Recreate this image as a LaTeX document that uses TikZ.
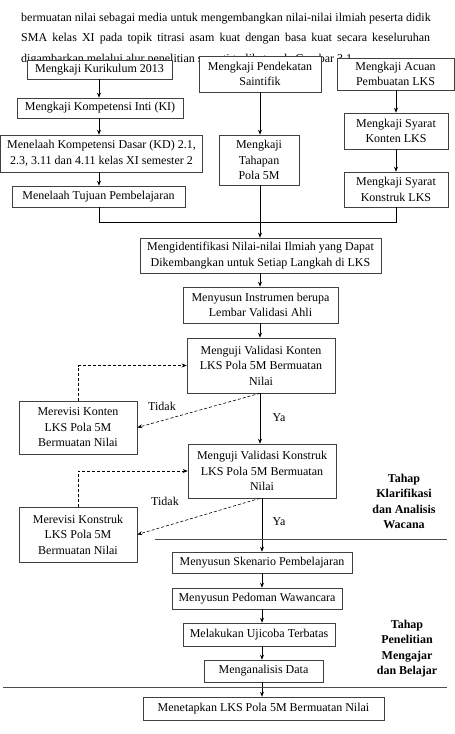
\documentclass[tikz,border=0pt]{standalone}
\usepackage{fontspec}
\setmainfont{Liberation Serif}
\usetikzlibrary{arrows.meta}
\begin{document}
\begin{tikzpicture}[x=1pt,y=-1pt,
  font=\fontsize{12}{15.5}\selectfont,
  box/.style={draw=black!75, line width=0.6pt, fill=white, align=center, inner sep=0pt},
  arr/.style={-{Stealth[length=5pt,width=4pt]}, line width=0.7pt},
  conn/.style={line width=0.7pt},
  dasharr/.style={-{Stealth[length=5pt,width=4pt]}, line width=0.6pt, dashed, dash pattern=on 3pt off 2pt},
  lbl/.style={inner sep=0pt},
  tahap/.style={align=center, font=\fontsize{12}{15.5}\selectfont\bfseries, inner sep=0pt}]
\useasboundingbox (0,0) rectangle (455,734);
% paragraph text
\node[anchor=base west, inner sep=0pt] (p2) at (21,21) {bermuatan nilai sebagai media untuk mengembangkan nilai-nilai ilmiah peserta didik};
\node[anchor=base west, inner sep=0pt] (p3) at (21,41.5) {\makebox[409pt][s]{SMA kelas XI pada topik titrasi asam kuat dengan basa kuat secara keseluruhan}};
\node[anchor=base west, inner sep=0pt] (p4) at (21,62) {digambarkan melalui alur penelitian seperti terlihat pada Gambar 3.1.};
% column coordinates
\coordinate (colL) at (99,0);
\coordinate (colM) at (260,0);
\coordinate (colR) at (396,0);
\coordinate (colB) at (262,0);
% boxes
\node[box, minimum width=145pt, minimum height=19pt] (kur) at (99.5,69.5) {Mengkaji Kurikulum 2013};
\node[box, minimum width=122pt, minimum height=36pt] (pend) at (260,74) {Mengkaji Pendekatan\\Saintifik};
\node[box, minimum width=117pt, minimum height=32pt] (acuan) at (395.5,74) {Mengkaji Acuan\\Pembuatan LKS};
\node[box, minimum width=166pt, minimum height=20pt] (ki) at (100,108) {Mengkaji Kompetensi Inti (KI)};
\node[box, minimum width=104pt, minimum height=36pt] (skon) at (396,131) {Mengkaji Syarat\\Konten LKS};
\node[box, minimum width=202pt, minimum height=37pt] (kd) at (101.5,153.5) {Menelaah Kompetensi Dasar (KD) 2.1,\\2.3, 3.11 dan 4.11 kelas XI semester 2};
\node[box, minimum width=80pt, minimum height=50pt] (tahap) at (259,160) {Mengkaji\\Tahapan\\Pola 5M};
\node[box, minimum width=173pt, minimum height=21pt] (tuj) at (98.5,196.5) {Menelaah Tujuan Pembelajaran};
\node[box, minimum width=104pt, minimum height=35pt] (skons) at (396,189.5) {Mengkaji Syarat\\Konstruk LKS};
\node[box, minimum width=241pt, minimum height=35pt] (ident) at (260.5,255.5) {Mengidentifikasi Nilai-nilai Ilmiah yang Dapat\\Dikembangkan untuk Setiap Langkah di LKS};
\node[box, minimum width=155pt, minimum height=36pt] (instr) at (260.5,305) {Menyusun Instrumen berupa\\Lembar Validasi Ahli};
\node[box, minimum width=148pt, minimum height=55pt] (valk) at (261,365.5) {Menguji Validasi Konten\\LKS Pola 5M Bermuatan\\Nilai};
\node[box, minimum width=118pt, minimum height=53pt] (revk) at (78,427.5) {Merevisi Konten\\LKS Pola 5M\\Bermuatan Nilai};
\node[box, minimum width=148pt, minimum height=54pt] (valks) at (262,471) {Menguji Validasi Konstruk\\LKS Pola 5M Bermuatan\\Nilai};
\node[box, minimum width=118pt, minimum height=55pt] (revks) at (78,534.5) {Merevisi Konstruk\\LKS Pola 5M\\Bermuatan Nilai};
\node[box, minimum width=180pt, minimum height=21pt] (sken) at (262,562.5) {Menyusun Skenario Pembelajaran};
\node[box, minimum width=170pt, minimum height=21pt] (waw) at (257,598.5) {Menyusun Pedoman Wawancara};
\node[box, minimum width=152pt, minimum height=23pt] (uji) at (259,634.5) {Melakukan Ujicoba Terbatas};
\node[box, minimum width=119pt, minimum height=22pt] (anal) at (263.5,671) {Menganalisis Data};
\node[box, minimum width=241pt, minimum height=23pt] (tetap) at (263.5,708.5) {Menetapkan LKS Pola 5M Bermuatan Nilai};
% top connectors
\draw[arr] (kur.south -| colL) -- (ki.north -| colL);
\draw[arr] (ki.south -| colL) -- (kd.north -| colL);
\draw[arr] (kd.south -| colL) -- (tuj.north -| colL);
\draw[arr] (pend.south -| colM) -- (tahap.north -| colM);
\draw[arr] (acuan.south -| colR) -- (skon.north -| colR);
\draw[arr] (skon.south -| colR) -- (skons.north -| colR);
\coordinate (jy) at (0,222);
\draw[conn] (tuj.south -| colL) -- (jy -| colL) -- (jy -| colR) -- (skons.south -| colR);
\draw[arr] (tahap.south -| colM) -- (ident.north -| colM);
\draw[arr] (ident.south -| colM) -- (instr.north -| colM);
\draw[arr] (instr.south -| colM) -- (valk.north -| colM);
\draw[arr] (valk.south -| colM) -- (valks.north -| colM);
\draw[arr] (valks.south -| colB) -- (sken.north -| colB);
\draw[arr] (sken.south -| colB) -- (waw.north -| colB);
\draw[arr] (waw.south -| colB) -- (uji.north -| colB);
\draw[arr] (uji.south -| colB) -- (anal.north -| colB);
\draw[arr] (anal.south -| colB) -- (tetap.north -| colB);
% dashed feedback
\draw[dasharr] (revk.north) |- (valk.west);
\draw[dasharr] (valk.south -| colM) -- (revk.east);
\draw[dasharr] (revks.north) |- (valks.west);
\draw[dasharr] (valks.south -| colM) -- (revks.east);
% labels
\node[lbl] (t1) at (162,406) {Tidak};
\node[lbl] (y1) at (279,418) {Ya};
\node[lbl] (t2) at (165,501) {Tidak};
\node[lbl] (y2) at (279,522) {Ya};
% phase separators
\coordinate (s1a) at (155,539);
\coordinate (s1b) at (447,539);
\draw[line width=0.6pt, black!70] (s1a) -- (s1b);
\coordinate (s2a) at (3,687);
\coordinate (s2b) at (447,687);
\draw[line width=0.6pt, black!70] (s2a) -- (s2b);
\node[tahap] (ph1) at (404,501.5) {Tahap\\Klarifikasi\\dan Analisis\\Wacana};
\node[tahap] (ph2) at (407,648.5) {Tahap\\Penelitian\\Mengajar\\dan Belajar};
\end{tikzpicture}
\end{document}
